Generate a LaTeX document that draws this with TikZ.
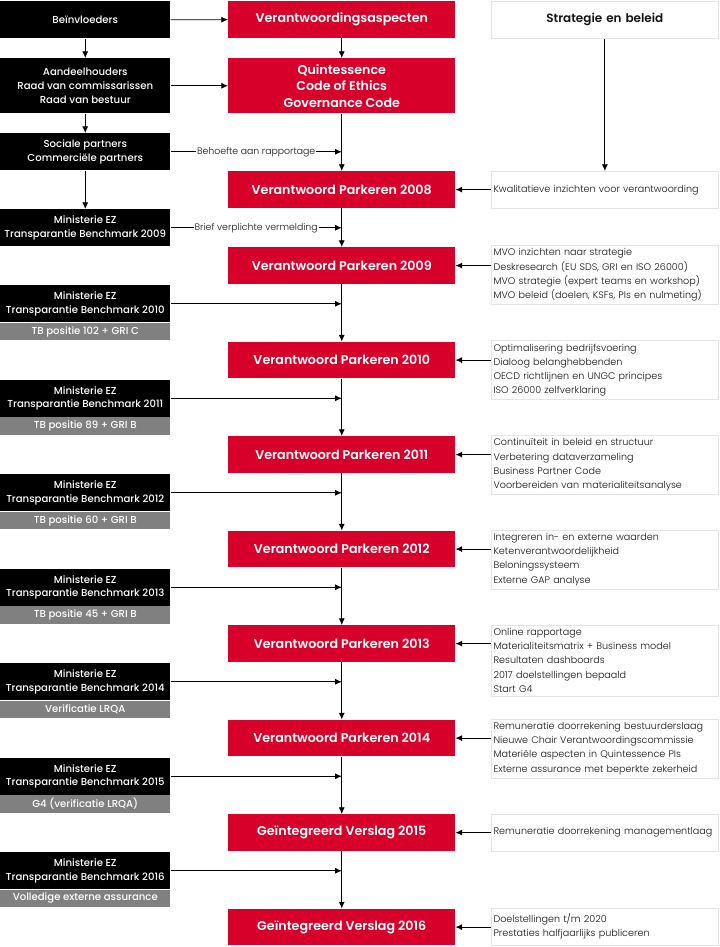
\documentclass[tikz,border=0pt]{standalone}
\usepackage{fontspec}
\setmainfont{Poppins}[BoldFont={Poppins SemiBold}]
\newfontfamily\lichtfont{Poppins Light}
\newfontfamily\middelfont{Poppins Medium}
\usetikzlibrary{arrows.meta}
\definecolor{rood}{RGB}{215,0,43}
\definecolor{grijs}{RGB}{128,128,128}
\definecolor{kaderlijn}{RGB}{228,228,228}
\definecolor{tekstgrijs}{RGB}{20,20,20}
\newcommand\kaderletter{\lichtfont\fontsize{7.2}{10.7}\selectfont\hyphenpenalty=10000\relax}
\tikzset{
    zwart/.style={fill=black,text=white,anchor=north west,inner sep=0pt,align=center,
        minimum width=127.5pt,minimum height=27.75pt,font=\middelfont\fontsize{7.6}{10.2}\selectfont},
    grijsvak/.style={fill=grijs,text=white,anchor=north west,inner sep=0pt,align=center,
        minimum width=127.5pt,minimum height=13pt,font=\middelfont\fontsize{7.6}{9}\selectfont},
    rood/.style={fill=rood,text=white,anchor=north west,inner sep=0pt,align=center,
        minimum width=170.25pt,minimum height=27.5pt,font=\bfseries\fontsize{9.5}{12.5}\selectfont},
    kader/.style={draw=kaderlijn,line width=0.6pt,text=tekstgrijs,anchor=north west,align=left,
        inner xsep=1.6pt,inner ysep=2.5pt,text width=167pt,minimum height=27.75pt,
        font=\kaderletter},
    pijl/.style={-{Latex[length=5pt,width=4.5pt]},line width=0.6pt},
    label/.style={fill=white,inner sep=0.8pt,text=tekstgrijs,font=\lichtfont\fontsize{7}{8}\selectfont}
}
\begin{document}
\begin{tikzpicture}[x=0.75pt,y=-0.75pt]
    \useasboundingbox (0,0) rectangle (720,947);
    % linker kolom
    \node[zwart] (beinv) at (0,1) {Beïnvloeders};
    \node[zwart,minimum height=41.25pt] (aandeel) at (0,58) {Aandeelhouders\\Raad van commissarissen\\Raad van bestuur};
    \node[zwart] (sociaal) at (0,133) {Sociale partners\\Commerciële partners};
    \node[zwart] (min2009) at (0,209) {Ministerie EZ\\Transparantie Benchmark 2009};
    \foreach \j/\grijstekst [count=\k from 0] in {2010/TB positie 102 + GRI C,2011/TB positie 89 + GRI B,
        2012/TB positie 60 + GRI B,2013/TB positie 45 + GRI B,2014/Verificatie LRQA,
        2015/G4 (verificatie LRQA),2016/Volledige externe assurance}{
        \node[zwart] (min\j) at (0,285+94.5*\k) {Ministerie EZ\\Transparantie Benchmark \j};
        \node[grijsvak] (tb\j) at (0,322.5+94.5*\k) {\grijstekst};
    }
    % middelste kolom
    \node[rood] (aspect) at (228,1) {Verantwoordingsaspecten};
    \node[rood,minimum height=41.25pt] (quint) at (228,58) {Quintessence\\Code of Ethics\\Governance Code};
    \node[rood] (vp2008) at (228,171) {Verantwoord Parkeren 2008};
    \foreach \j [count=\k from 0] in {2009,...,2016}{
        \ifnum\j<2015
            \node[rood] (vp\j) at (228,247+94.5*\k) {Verantwoord Parkeren \j};
        \else
            \node[rood] (vp\j) at (228,247+94.5*\k) {Geïntegreerd Verslag \j};
        \fi
    }
    % rechter kolom
    \node[kader,align=center,font=\bfseries\fontsize{9}{11}\selectfont] (strat) at (491,1) {Strategie en beleid};
    \node[kader] (info2008) at (491,171) {Kwalitatieve inzichten voor verantwoording};
    \node[kader] (info2009) at (491,245) {MVO inzichten naar strategie\\Deskresearch (EU SDS, GRI en ISO 26000)\\MVO strategie (expert teams en workshop)\\MVO beleid (doelen, KSFs, PIs en nulmeting)};
    \node[kader] (info2010) at (491,340) {Optimalisering bedrijfsvoering\\Dialoog belanghebbenden\\OECD richtlijnen en UNGC principes\\ISO 26000 zelfverklaring};
    \node[kader] (info2011) at (491,435) {Continuïteit in beleid en structuur\\Verbetering dataverzameling\\Business Partner Code\\Voorbereiden van materialiteitsanalyse};
    \node[kader] (info2012) at (491,529.5) {Integreren in- en externe waarden\\Ketenverantwoordelijkheid\\Beloningssysteem\\Externe GAP analyse};
    \node[kader] (info2013) at (491,624.5) {Online rapportage\\Materialiteitsmatrix + Business model\\Resultaten dashboards\\2017 doelstellingen bepaald\\Start G4};
    \node[kader] (info2014) at (491,718.5) {Remuneratie doorrekening bestuurderslaag\\Nieuwe Chair Verantwoordingscommissie\\Materiële aspecten in Quintessence PIs\\Externe assurance met beperkte zekerheid};
    \node[kader] (info2015) at (491,813.5) {\mbox{Remuneratie doorrekening managementlaag}};
    \node[kader] (info2016) at (491,907.5) {Doelstellingen t/m 2020\\Prestaties halfjaarlijks publiceren};
    % pijlen
    \draw[pijl] (beinv) -- (aandeel);
    \draw[pijl] (aandeel) -- (sociaal);
    \draw[pijl] (sociaal) -- (min2009);
    \draw[pijl] (beinv) -- (aspect);
    \draw[pijl] (aandeel) -- (quint);
    \draw[pijl] (aspect) -- (quint);
    \draw[pijl] (quint) -- (vp2008);
    \draw[pijl] (strat) -- (info2008);
    \draw[pijl] (sociaal.east) -- node[label]{Behoefte aan rapportage} (sociaal.east -| vp2008.north);
    \draw[pijl] (min2009.east) -- node[label]{Brief verplichte vermelding} (min2009.east -| vp2009.north);
    \foreach \j [remember=\j as \vorig (initially 2008)] in {2009,...,2016}{
        \draw[pijl] (vp\vorig.south) -- (vp\j.north);
    }
    \foreach \j [evaluate=\j as \volgend using int(\j+1)] in {2010,...,2015}{
        \draw[pijl] (min\j.east) -- (min\j.east -| vp\volgend.north);
    }
    \draw[pijl] (min2016.east) -- (min2016.east -| vp2016.north);
    \foreach \j in {2008,...,2016}{
        \draw[pijl] (info\j.west |- vp\j.east) -- (vp\j.east);
    }
\end{tikzpicture}
\end{document}
